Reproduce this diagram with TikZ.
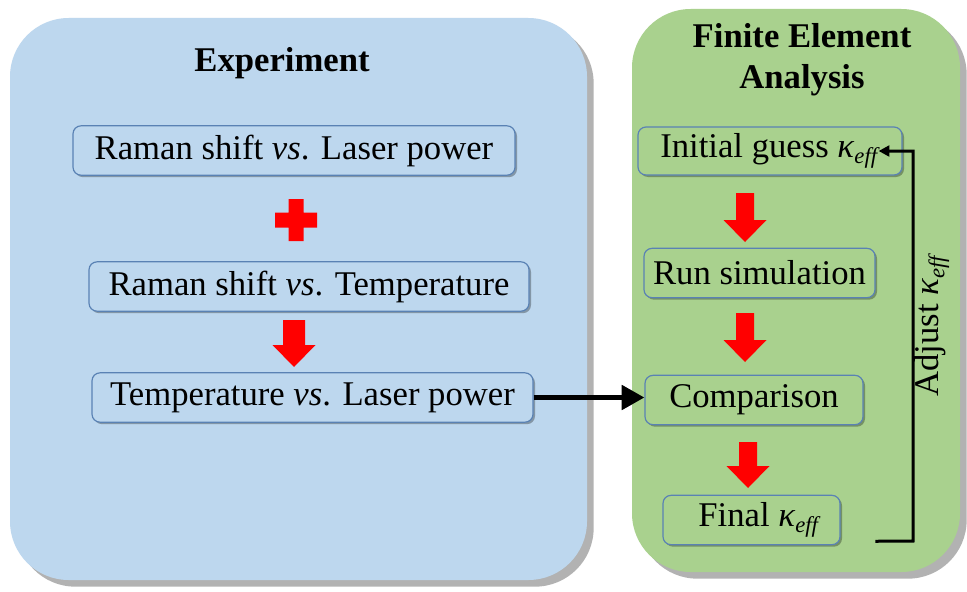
\documentclass[tikz,border=0pt]{standalone}
\usepackage{fontspec}
\setmainfont{Liberation Serif}
\usetikzlibrary{arrows.meta,calc,positioning,shadows}
\definecolor{PanelBlue}{HTML}{BDD7EE}
\definecolor{PanelGreen}{HTML}{A9D18E}
\definecolor{BoxEdge}{HTML}{5A82B4}
\definecolor{FlowRed}{HTML}{FF0000}
\newcommand{\keff}{\textit{κ}\raisebox{-0.35ex}{\fontsize{17}{17}\selectfont\textit{eff}}}

\begin{document}
\begin{tikzpicture}[x=0.75pt,y=-0.75pt,font=\fontsize{26}{31}\selectfont,
      panel/.style={rounded corners=44pt,inner sep=0pt,
                    drop shadow={shadow xshift=5pt,shadow yshift=-5pt,
                                 fill=black,opacity=.3}},
      stepbox/.style={draw=BoxEdge,line width=0.9pt,rounded corners=6pt,
                      inner sep=0pt,minimum height=37pt,
                      drop shadow={shadow xshift=1.5pt,shadow yshift=-1.5pt,
                                   fill=black,opacity=.3}},
      heading/.style={font=\fontsize{26}{31}\selectfont\bfseries,align=center},
      linkarrow/.style={line width=3.75pt,-{Triangle[length=17pt,width=18pt]}},
      feedback/.style={line width=2.25pt,-{Triangle[length=8pt,width=8pt]}}]
    \path[use as bounding box,fill=white] (0,0) rectangle (967,592);

    % Two panels: measurement on the left, simulation loop on the right.
    \node[panel,fill=PanelBlue,minimum width=432.75pt,minimum height=421.5pt]
      (exptpanel) at (298.5,299) {};
    \node[panel,fill=PanelGreen,minimum width=246pt,minimum height=422.25pt]
      (fempanel) at (796,290.5) {};
    \node[heading] (expttitle) at (282,63) {Experiment};
    \node[heading] (femtitle) at (802,60) {Finite Element\\Analysis};

    % Experiment steps
    \node[stepbox,fill=PanelBlue,minimum width=331.5pt] (expt1) at (294,150.5)
      {Raman shift \textit{vs}. Laser power};
    \node[stepbox,fill=PanelBlue,minimum width=330pt] (expt2) at (309,286.5)
      {Raman shift \textit{vs}. Temperature};
    \node[stepbox,fill=PanelBlue,minimum width=330.75pt] (expt3) at (312.5,397.5)
      {Temperature \textit{vs}. Laser power};
    \fill[FlowRed] (288.5,199) rectangle (303.5,241)
                   (275,212.5) rectangle (317,227.5);

    % FEA steps
    \node[stepbox,fill=PanelGreen,minimum width=198pt,minimum height=36pt]
      (guess) at (770,151) {Initial guess \keff};
    \node[stepbox,fill=PanelGreen,minimum width=173.25pt] (simulate) at (759.5,273)
      {Run simulation};
    \node[stepbox,fill=PanelGreen,minimum width=163.5pt] (compare) at (754,400)
      {Comparison};
    \node[stepbox,fill=PanelGreen,minimum width=132.75pt] (final) at (751.5,520)
      {\hspace{12pt}Final \keff};

    % Block arrows between steps
    \foreach \x/\ya/\yb/\w in {294/320/367/11,745/193/242/9,
                               745/313/362/9,748/442/488/9}{%
      \fill[FlowRed] ({\x-\w},\ya) -- ({\x+\w},\ya) -- ({\x+\w},{\yb-22})
        -- ({\x+21.5},{\yb-22}) -- (\x,\yb) -- ({\x-21.5},{\yb-22})
        -- ({\x-\w},{\yb-22}) -- cycle;
    }

    \draw[linkarrow] (expt3.east) -- (expt3.east -| compare.west);

    % Feedback loop back to the initial guess
    \coordinate (loopfoot) at ([xshift=26pt,yshift=3pt]final.south east);
    \coordinate (looptip) at ([xshift=-18pt]guess.east);
    \coordinate (loopcorner) at (913,541);
    \draw[feedback] (loopfoot) -- (loopcorner) |- (looptip);
    \node[rotate=90] (adjust) at (932,325) {Adjust \keff};
  \end{tikzpicture}
\end{document}
